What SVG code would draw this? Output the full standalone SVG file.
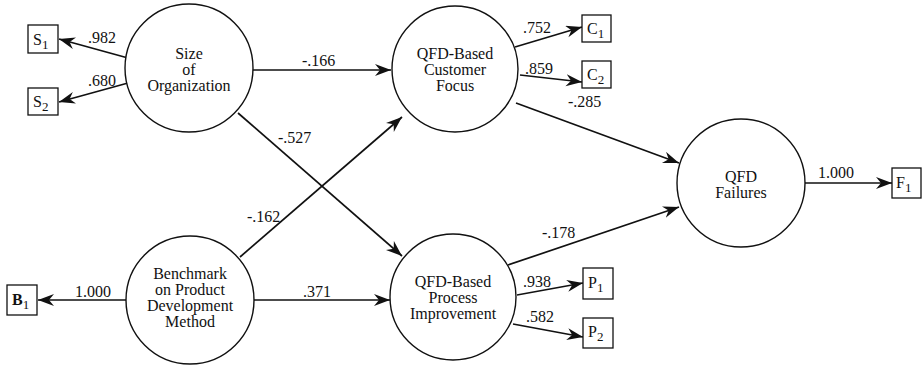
<svg xmlns="http://www.w3.org/2000/svg" width="923" height="366" viewBox="0 0 923 366" font-family="'Liberation Serif', 'DejaVu Serif', serif">
  <style>
    text { font-family: "Liberation Serif", "DejaVu Serif", serif; font-size: 16px; fill: #111; }
    .node circle { fill: #fff; stroke: #111; stroke-width: 1.4; }
    .obs rect { fill: #fff; stroke: #111; stroke-width: 1.3; }
    .mid { text-anchor: middle; }
    .sub { font-size: 13px; }
    .edges line { stroke: #111; stroke-width: 1.7; marker-end: url(#arrow); }
  </style>
  <defs>
    <marker id="arrow" markerUnits="userSpaceOnUse" markerWidth="18" markerHeight="14" refX="16" refY="6" orient="auto">
      <path d="M0,0 L16,6 L0,12 L5,6 Z" fill="#111"/>
    </marker>
  </defs>

  <!-- connectors -->
  <g id="edges" class="edges">
    <line x1="128" y1="58" x2="59" y2="39"/>
    <line x1="128" y1="83" x2="59" y2="102"/>
    <line x1="253" y1="70" x2="391" y2="70"/>
    <line x1="238" y1="113" x2="402" y2="256"/>
    <line x1="240" y1="257" x2="402" y2="117"/>
    <line x1="253" y1="300" x2="390" y2="300"/>
    <line x1="126" y1="300" x2="38" y2="300"/>
    <line x1="515" y1="47" x2="582" y2="27"/>
    <line x1="520" y1="75" x2="582" y2="82"/>
    <line x1="516" y1="103" x2="679" y2="163"/>
    <line x1="508" y1="265" x2="679" y2="207"/>
    <line x1="517" y1="295" x2="583" y2="283"/>
    <line x1="513" y1="324" x2="583" y2="337"/>
    <line x1="805" y1="183" x2="892" y2="183"/>
  </g>

  <!-- path coefficients -->
  <g id="labels">
    <text x="88" y="43">.982</text>
    <text x="88" y="86">.680</text>
    <text x="302" y="66">-.166</text>
    <text x="278" y="143">-.527</text>
    <text x="247" y="222">-.162</text>
    <text x="303" y="297">.371</text>
    <text x="75" y="297">1.000</text>
    <text x="523" y="33">.752</text>
    <text x="525" y="74">.859</text>
    <text x="568" y="107">-.285</text>
    <text x="542" y="238">-.178</text>
    <text x="523" y="287">.938</text>
    <text x="526" y="322">.582</text>
    <text x="818" y="178">1.000</text>
  </g>

  <!-- latent constructs -->
  <g id="size" class="node">
    <circle cx="189" cy="68" r="64"/>
    <text class="mid" x="189" y="59">Size</text>
    <text class="mid" x="189" y="75">of</text>
    <text class="mid" x="189" y="91">Organization</text>
  </g>
  <g id="benchmark" class="node">
    <circle cx="190" cy="300" r="64"/>
    <text class="mid" x="190" y="279">Benchmark</text>
    <text class="mid" x="190" y="295">on Product</text>
    <text class="mid" x="190" y="311">Development</text>
    <text class="mid" x="190" y="327">Method</text>
  </g>
  <g id="customer" class="node">
    <circle cx="455" cy="69" r="63"/>
    <text class="mid" x="455" y="59">QFD-Based</text>
    <text class="mid" x="455" y="75">Customer</text>
    <text class="mid" x="455" y="91">Focus</text>
  </g>
  <g id="process" class="node">
    <circle cx="453" cy="297" r="63"/>
    <text class="mid" x="453" y="287">QFD-Based</text>
    <text class="mid" x="453" y="303">Process</text>
    <text class="mid" x="453" y="319">Improvement</text>
  </g>
  <g id="failures" class="node">
    <circle cx="741" cy="183" r="64"/>
    <text class="mid" x="741" y="182">QFD</text>
    <text class="mid" x="741" y="198">Failures</text>
  </g>

  <!-- indicators -->
  <g id="s1" class="obs">
    <rect x="28" y="25" width="30" height="28"/>
    <text x="33" y="45">S<tspan class="sub" dy="4">1</tspan></text>
  </g>
  <g id="s2" class="obs">
    <rect x="28" y="88" width="30" height="27"/>
    <text x="33" y="107">S<tspan class="sub" dy="4">2</tspan></text>
  </g>
  <g id="b1" class="obs">
    <rect x="7" y="285" width="30" height="30"/>
    <text x="12" y="305" font-weight="bold">B<tspan class="sub" dy="4" font-weight="normal">1</tspan></text>
  </g>
  <g id="c1" class="obs">
    <rect x="582" y="15" width="29" height="27"/>
    <text x="587" y="34">C<tspan class="sub" dy="4">1</tspan></text>
  </g>
  <g id="c2" class="obs">
    <rect x="582" y="61" width="29" height="27"/>
    <text x="587" y="80">C<tspan class="sub" dy="4">2</tspan></text>
  </g>
  <g id="p1" class="obs">
    <rect x="583" y="268" width="30" height="31"/>
    <text x="588" y="288">P<tspan class="sub" dy="4">1</tspan></text>
  </g>
  <g id="p2" class="obs">
    <rect x="583" y="318" width="30" height="30"/>
    <text x="588" y="337">P<tspan class="sub" dy="4">2</tspan></text>
  </g>
  <g id="f1" class="obs">
    <rect x="892" y="168" width="29" height="30"/>
    <text x="896" y="188">F<tspan class="sub" dy="4">1</tspan></text>
  </g>
</svg>
